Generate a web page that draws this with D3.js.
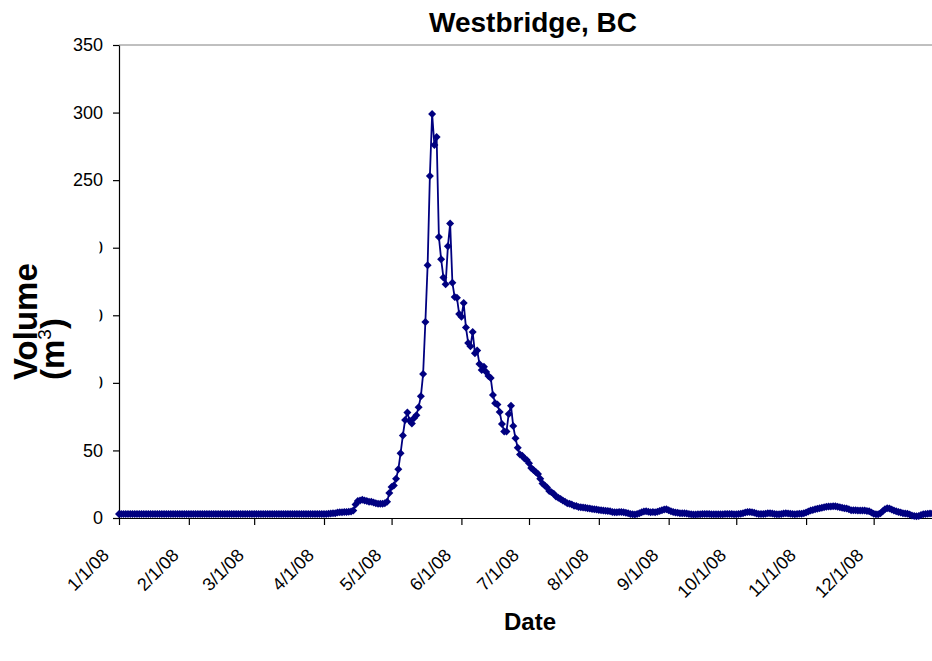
<!DOCTYPE html>
<html>
<head>
<meta charset="utf-8">
<script src="https://cdn.jsdelivr.net/npm/d3@7"></script>
<style>
  body { margin: 0; background: #fff; }
  svg text { font-family: Arial, "Liberation Sans", sans-serif; }
</style>
</head>
<body>
<svg id="chart" width="932" height="661"></svg>
<script>
// Chart text
const chartTitle = "Westbridge, BC";
const xTitle = "Date";
const yTitle = "Volume";
const yUnitBase = "(m";
const yUnitSup = "3";
const yUnitClose = ")";

// Axis ticks
const yTicks = [0, 50, 100, 150, 200, 250, 300, 350];
const monthTicks = ["2008-01-01", "2008-02-01", "2008-03-01", "2008-04-01", "2008-05-01", "2008-06-01",
                    "2008-07-01", "2008-08-01", "2008-09-01", "2008-10-01", "2008-11-01", "2008-12-01"];
const seriesStart = "2008-01-01";

// Daily volume (m3), one array per month of 2008
const jan = [3,3,3,3,3,3,3,3,3,3,3,3,3,3,3,3,3,3,3,3,3,3,3,3,3,3,3,3,3,3,3];
const feb = [3,3,3,3,3,3,3,3,3,3,3,3,3,3,3,3,3,3,3,3,3,3,3,3,3,3,3,3,3];
const mar = [3,3,3,3,3,3,3,3,3,3,3,3,3,3,3,3,3,3,3,3,3,3,3,3,3,3,3,3,3,3,3];
const apr = [3,3,3.2,3.3,3.5,3.6,4,4.2,4.3,4.5,4.5,4.6,4.8,5.5,10,12.5,13,13.5,13,12.5,12,12,11.5,11,10.5,10.5,10.5,11,12,18.5];
const may = [23,24,29,36,48,61,72.5,78,72,70,74,76,82,90,106.5,145,187,253,299,276,282,208,191.5,178,173,201,218,174,163.5,163,151];
const jun = [149,159,141,129.5,127,137.6,122,124,114,109.5,112,108,105,103.6,91,85,84,78.5,69.5,64,64,77,83,68,59,52,47,46,44,43];
const jul = [40.5,37,35.5,34,32.5,29,25.5,24,22.5,20,19,18,16,15,14,13,12,11,10.5,10,9,8.8,8.2,8,7.8,7.5,7.3,7,6.7,6.5,6.2];
const aug = [6,5.8,5.5,5.3,5.2,5,4.5,4.3,4.2,4.4,4.4,4.2,3.8,3.5,3,2.7,2.5,3,3.5,4.2,4.8,5,4.6,4.2,4.4,4.2,4.6,5.2,5.8,6.2,6.5];
const sep = [5.8,5,4.5,4,3.8,3.6,3.5,3.5,3.4,3,2.7,2.6,2.6,2.7,2.8,2.9,3,3,2.9,2.8,2.8,2.7,2.7,2.8,2.8,2.9,3,3,2.9,2.8];
const oct = [2.8,2.9,3.1,3.5,4,4.4,4.5,4.2,3.8,3.3,3,2.9,3,3.2,3.5,3.6,3.3,3,2.8,2.8,3,3.3,3.5,3.4,3.1,2.9,2.8,2.9,3.1,3.2,3.6];
const nov = [4,4.8,5.5,6,6.5,6.8,7.2,7.6,8,8.3,8.5,8.6,8.7,8.7,8.4,8,7.6,7.2,7,6.4,5.8,5.7,5.8,5.6,5.5,5.5,5.6,5.2,5,4];
const dec = [3.2,2.8,2.8,3.5,5,6.5,7.2,7,6.2,5.5,5,4.5,4,3.6,3.4,3.2,2.5,1.8,1.4,1.3,1.5,2.2,2.8,3,3.2,3.3,3.3,3.2,3.3,3.4,3.4];

const parseDate = d3.timeParse("%Y-%m-%d");
const start = parseDate(seriesStart);
const volumes = [].concat(jan, feb, mar, apr, may, jun, jul, aug, sep, oct, nov, dec);
const data = volumes.map((v, i) => ({ date: d3.timeDay.offset(start, i), value: v }));

const svg = d3.select("#chart");
svg.append("rect").attr("width", 932).attr("height", 661).attr("fill", "#fff");

const plot = { left: 119, top: 45, bottom: 518, right: 943.5 };

const x = d3.scaleTime()
  .domain([start, d3.timeYear.offset(start, 1)])
  .range([plot.left, plot.right]);
const y = d3.scaleLinear()
  .domain([0, 350])
  .range([plot.bottom, plot.top]);

// Plot area frame (top and right edges)
svg.append("line")
  .attr("x1", plot.left).attr("x2", plot.right)
  .attr("y1", plot.top).attr("y2", plot.top)
  .attr("stroke", "#808080").attr("stroke-width", 1);
svg.append("line")
  .attr("x1", plot.right).attr("x2", plot.right)
  .attr("y1", plot.top).attr("y2", plot.bottom)
  .attr("stroke", "#808080").attr("stroke-width", 1);

// Y axis
const yAxis = d3.axisLeft(y)
  .tickValues(yTicks)
  .tickSize(6)
  .tickSizeOuter(0)
  .tickPadding(10)
  .tickFormat(d3.format("d"));
const gy = svg.append("g")
  .attr("transform", `translate(${plot.left},0)`)
  .call(yAxis);
gy.select(".domain").attr("stroke", "#000").attr("stroke-width", 1.2);
gy.selectAll(".tick line").attr("stroke", "#000").attr("stroke-width", 1.2);
gy.selectAll(".tick text")
  .attr("font-size", 18)
  .attr("fill", "#000")
  .attr("font-family", "Arial, 'Liberation Sans', sans-serif");

// X axis with month ticks
const xAxis = d3.axisBottom(x)
  .tickValues(monthTicks.map(parseDate))
  .tickFormat(d3.timeFormat("%-m/%-d/%y"))
  .tickSize(7)
  .tickSizeOuter(0);
const gx = svg.append("g")
  .attr("transform", `translate(0,${plot.bottom})`)
  .call(xAxis);
gx.select(".domain").attr("stroke", "#000").attr("stroke-width", 1.2);
gx.selectAll(".tick line").attr("stroke", "#000").attr("stroke-width", 1.2);
gx.selectAll(".tick text")
  .attr("font-size", 18)
  .attr("fill", "#000")
  .attr("font-family", "Arial, 'Liberation Sans', sans-serif")
  .attr("text-anchor", "end")
  .attr("y", 0)
  .attr("dy", 0)
  .attr("transform", "translate(-9.5,38.5) rotate(-45)");

// Series line and diamond markers
const line = d3.line()
  .x(d => x(d.date))
  .y(d => y(d.value));
svg.append("path")
  .datum(data)
  .attr("fill", "none")
  .attr("stroke", "#000080")
  .attr("stroke-width", 1.8)
  .attr("stroke-linejoin", "round")
  .attr("d", line);

const marker = d3.symbol().type(d3.symbolSquare).size(32);
svg.append("g")
  .selectAll("path")
  .data(data)
  .join("path")
  .attr("d", marker)
  .attr("fill", "#000080")
  .attr("transform", d => `translate(${x(d.date)},${y(d.value)}) rotate(45)`);

// Y title block (its white backing sits over part of the tick labels)
svg.append("rect")
  .attr("x", 0).attr("y", 222)
  .attr("width", 99.5).attr("height", 167)
  .attr("fill", "#fff");

const yTitleG = svg.append("g");
yTitleG.append("text")
  .attr("transform", "translate(37,380) rotate(-90)")
  .attr("font-size", 33)
  .attr("font-weight", "bold")
  .attr("fill", "#000")
  .text(yTitle);
const unit = yTitleG.append("text")
  .attr("transform", "translate(64,380) rotate(-90)")
  .attr("font-size", 33)
  .attr("font-weight", "bold")
  .attr("fill", "#000");
unit.append("tspan").text(yUnitBase);
unit.append("tspan").attr("font-size", 19).attr("font-weight", "normal").attr("dy", -13).text(yUnitSup);
unit.append("tspan").attr("dy", 13).text(yUnitClose);

// Chart title and x title
svg.append("text")
  .attr("x", 533).attr("y", 32)
  .attr("text-anchor", "middle")
  .attr("font-size", 28)
  .attr("font-weight", "bold")
  .attr("fill", "#000")
  .text(chartTitle);

svg.append("text")
  .attr("x", 530).attr("y", 630)
  .attr("text-anchor", "middle")
  .attr("font-size", 24)
  .attr("font-weight", "bold")
  .attr("fill", "#000")
  .text(xTitle);
</script>
</body>
</html>
